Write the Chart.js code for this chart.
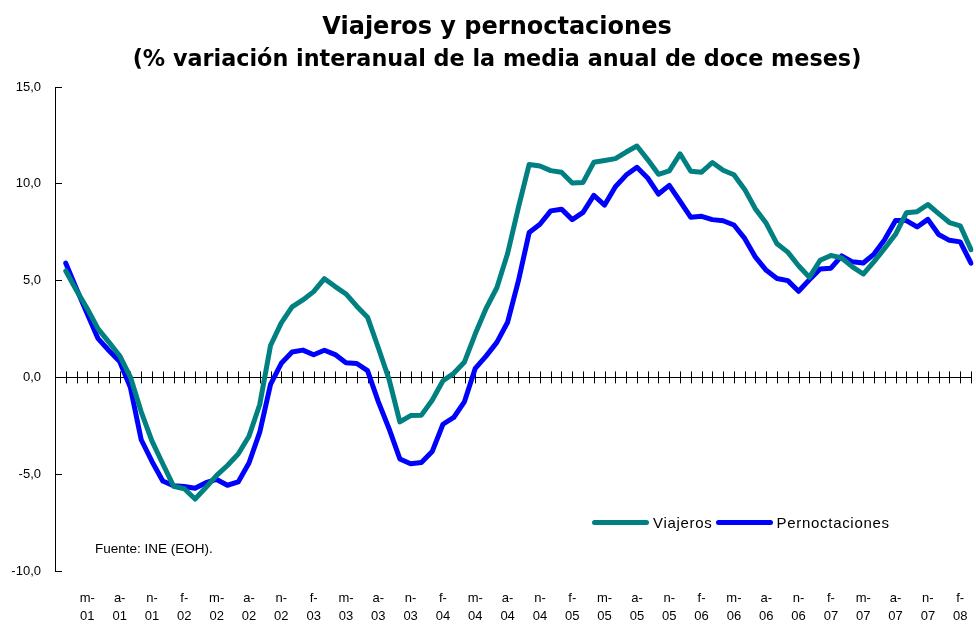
<!DOCTYPE html>
<html lang="es">
<head>
<meta charset="utf-8">
<title>Viajeros y pernoctaciones</title>
<script src="https://cdn.jsdelivr.net/npm/chart.js@4.4.1/dist/chart.umd.min.js"></script>
<style>
  body { margin: 0; background: #fff; }
  #wrap { position: relative; width: 976px; height: 628px; }
  #legend { position: absolute; left: 592px; top: 514px; display: flex; align-items: center;
    font-family: "Liberation Sans", Arial, sans-serif; font-size: 15px; color: #000; letter-spacing: 0.7px; }
  #legend .item { display: flex; align-items: center; margin-right: 3px; }
  #legend .swatch { width: 57px; height: 5px; border-radius: 3px; margin-right: 4px; }
  #source { position: absolute; left: 95px; top: 541px;
    font-family: "Liberation Sans", Arial, sans-serif; font-size: 13.5px; color: #000; }
</style>
</head>
<body>
<div id="wrap">
  <canvas id="chart"></canvas>
  <div id="legend"></div>
  <div id="source">Fuente: INE (EOH).</div>
</div>
<script>
// Months feb-2001 .. mar-2008 (first month has no value)
const months = [
  "f-01","m-01","a-01","m-01","j-01","j-01","a-01","s-01","o-01","n-01","d-01",
  "e-02","f-02","m-02","a-02","m-02","j-02","j-02","a-02","s-02","o-02","n-02","d-02",
  "e-03","f-03","m-03","a-03","m-03","j-03","j-03","a-03","s-03","o-03","n-03","d-03",
  "e-04","f-04","m-04","a-04","m-04","j-04","j-04","a-04","s-04","o-04","n-04","d-04",
  "e-05","f-05","m-05","a-05","m-05","j-05","j-05","a-05","s-05","o-05","n-05","d-05",
  "e-06","f-06","m-06","a-06","m-06","j-06","j-06","a-06","s-06","o-06","n-06","d-06",
  "e-07","f-07","m-07","a-07","m-07","j-07","j-07","a-07","s-07","o-07","n-07","d-07",
  "e-08","f-08","m-08"
];

// % variation, viajeros
const viajeros = [null,
  5.5, 4.49, 3.55, 2.51, 1.82, 1.12, 0.02, -1.78, -3.29, -4.46,
  -5.62, -5.75, -6.28, -5.69, -5.06, -4.55, -3.96, -3.04, -1.4, 1.65,
  2.82, 3.64, 4.0, 4.43, 5.1, 4.69, 4.31, 3.68, 3.11, 1.53,
  -0.1, -2.3, -1.97, -1.95, -1.18, -0.17, 0.21, 0.8, 2.25, 3.56,
  4.63, 6.4, 8.77, 11.0, 10.92, 10.68, 10.6, 10.04, 10.07, 11.11,
  11.2, 11.3, 11.64, 11.95, 11.25, 10.49, 10.67, 11.55, 10.65, 10.6,
  11.1, 10.7, 10.47, 9.71, 8.7, 7.96, 6.9, 6.47, 5.77, 5.17,
  6.05, 6.3, 6.17, 5.71, 5.34, 5.98, 6.68, 7.39, 8.5, 8.56,
  8.93, 8.46, 8.0, 7.83, 6.6
];

// % variation, pernoctaciones
const pernoctaciones = [null,
  5.9, 4.57, 3.27, 2.0, 1.39, 0.82, -0.53, -3.22, -4.34, -5.35,
  -5.6, -5.64, -5.73, -5.44, -5.27, -5.57, -5.4, -4.42, -2.83, -0.36,
  0.73, 1.31, 1.41, 1.17, 1.4, 1.18, 0.76, 0.72, 0.35, -1.25,
  -2.65, -4.21, -4.46, -4.4, -3.83, -2.42, -2.07, -1.25, 0.47, 1.1,
  1.81, 2.85, 4.98, 7.48, 7.91, 8.6, 8.69, 8.15, 8.52, 9.4,
  8.9, 9.85, 10.45, 10.85, 10.3, 9.47, 9.92, 9.1, 8.27, 8.32,
  8.15, 8.09, 7.87, 7.18, 6.21, 5.53, 5.11, 5.0, 4.45, 5.04,
  5.6, 5.64, 6.28, 5.97, 5.91, 6.37, 7.13, 8.1, 8.1, 7.77,
  8.16, 7.38, 7.08, 7.0, 5.9
];

const titleText = "Viajeros y pernoctaciones";
const subtitleText = "(% variación interanual de la media anual de doce meses)";

const labelFont = { family: "'Liberation Sans', Arial, sans-serif", size: 13 };
const headFont = "'DejaVu Sans', Verdana, sans-serif";

// small crossing tick marks on the zero line, one per month
const zeroTicks = {
  id: "zeroTicks",
  beforeDatasetsDraw(chart) {
    const { ctx, scales } = chart;
    const y0 = scales.y.getPixelForValue(0);
    ctx.save();
    ctx.strokeStyle = "#000";
    ctx.lineWidth = 1;
    ctx.beginPath();
    for (let i = 0; i < chart.data.labels.length; i++) {
      const px = Math.round(scales.x.getPixelForValue(i)) + 0.5;
      ctx.moveTo(px, y0 - 6);
      ctx.lineTo(px, y0 + 6);
    }
    ctx.stroke();
    ctx.restore();
  }
};

const chart = new Chart(document.getElementById("chart"), {
  type: "line",
  data: {
    labels: months,
    datasets: [
      { label: "Viajeros", data: viajeros, borderColor: "#008080", backgroundColor: "#008080" },
      { label: "Pernoctaciones", data: pernoctaciones, borderColor: "#0000ff", backgroundColor: "#0000ff" }
    ]
  },
  options: {
    responsive: true,
    maintainAspectRatio: false,
    animation: false,
    // negative right padding widens the title box so it centres like the original
    layout: { padding: { left: 0, right: -18, top: 0, bottom: 0 } },
    elements: {
      point: { radius: 0 },
      line: { borderWidth: 5, tension: 0, borderJoinStyle: "round", borderCapStyle: "round" }
    },
    plugins: {
      legend: { display: false },
      tooltip: { enabled: false },
      title: {
        display: true,
        text: titleText,
        color: "#000",
        font: { family: headFont, size: 24, weight: "bold", lineHeight: "34px" },
        padding: { top: 11, bottom: 0 }
      },
      subtitle: {
        display: true,
        text: subtitleText,
        color: "#000",
        font: { family: headFont, size: 22.3, weight: "bold", lineHeight: "30px" },
        padding: { top: 0, bottom: 12 }
      }
    },
    scales: {
      x: {
        grid: { display: false, drawTicks: false },
        border: { display: false },
        ticks: {
          autoSkip: false,
          maxRotation: 0,
          padding: 18,
          color: "#000",
          font: { ...labelFont, lineHeight: "18px" },
          callback: function (value, index) {
            if (index === 0 || index % 3 !== 0) return "";
            const lab = this.getLabelForValue(value);
            return [lab.slice(0, 2), lab.slice(2)];
          }
        },
        afterFit: (scale) => {
          scale.height = 57;
          scale.paddingLeft = 0;
          scale.paddingRight = 5;
        }
      },
      y: {
        min: -10,
        max: 15,
        grid: {
          drawTicks: true,
          tickLength: -7,
          tickColor: "#000",
          color: (c) => (c.tick && c.tick.value === 0 ? "#000" : "rgba(0,0,0,0)")
        },
        border: { color: "#000" },
        ticks: {
          stepSize: 5,
          padding: 21,
          color: "#000",
          font: labelFont,
          callback: (v) => v.toFixed(1).replace(".", ",")
        },
        afterFit: (scale) => { scale.width = 55; }
      }
    }
  },
  plugins: [zeroTicks]
});

// legend built from the datasets
const legendEl = document.getElementById("legend");
chart.data.datasets.forEach((ds) => {
  const item = document.createElement("div");
  item.className = "item";
  item.innerHTML = `<span class="swatch" style="background:${ds.borderColor}"></span><span>${ds.label}</span>`;
  legendEl.appendChild(item);
});
</script>
</body>
</html>
